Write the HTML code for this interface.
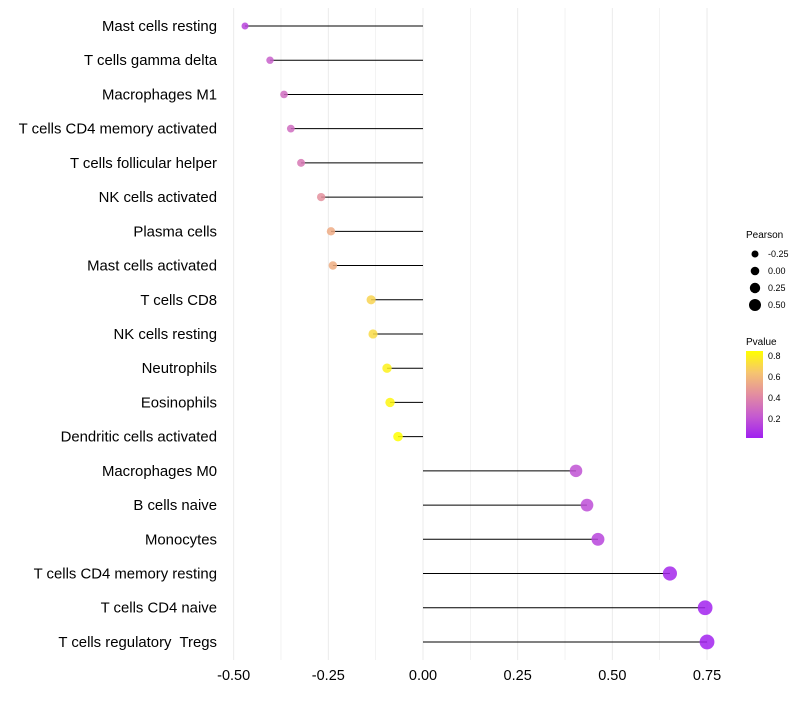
<!DOCTYPE html>
<html><head><meta charset="utf-8"><style>
body{margin:0;background:#fff;font-family:"Liberation Sans",sans-serif}
text{white-space:pre}
</style></head><body>
<svg id="chart" width="800" height="700" xmlns="http://www.w3.org/2000/svg">
<defs><linearGradient id="pg" x1="0" y1="1" x2="0" y2="0">
<stop offset="0" stop-color="#a020f0"/><stop offset="0.25" stop-color="#c55ad0"/><stop offset="0.5" stop-color="#e38da0"/><stop offset="0.75" stop-color="#f6c470"/><stop offset="1" stop-color="#ffff00"/></linearGradient></defs>
<g id="grid"></g><g id="marks"></g><g id="labels"></g>
<g font-size="9" fill="#000">
<text x="746" y="238" font-size="10">Pearson</text>
<circle cx="755" cy="254" r="3.5"/><text x="768" y="257">-0.25</text>
<circle cx="755" cy="271" r="4.3"/><text x="768" y="274">0.00</text>
<circle cx="755" cy="288" r="5.2"/><text x="768" y="291">0.25</text>
<circle cx="755" cy="305" r="6"/><text x="768" y="308">0.50</text>
</g>
<g font-size="9" fill="#000">
<text x="746" y="345" font-size="10">Pvalue</text>
<rect x="746" y="351" width="17" height="87" fill="url(#pg)"/>
<text x="768" y="359">0.8</text><text x="768" y="380">0.6</text><text x="768" y="401">0.4</text><text x="768" y="422">0.2</text>
</g>
</svg>
<script>
const categories=["Mast cells resting","T cells gamma delta","Macrophages M1","T cells CD4 memory activated","T cells follicular helper","NK cells activated","Plasma cells","Mast cells activated","T cells CD8","NK cells resting","Neutrophils","Eosinophils","Dendritic cells activated","Macrophages M0","B cells naive","Monocytes","T cells CD4 memory resting","T cells CD4 naive","T cells regulatory  Tregs"];
const pearson=[-0.47,-0.404,-0.367,-0.349,-0.322,-0.269,-0.243,-0.238,-0.137,-0.132,-0.095,-0.087,-0.066,0.404,0.433,0.462,0.652,0.745,0.75];
const pvalue=[0.15,0.25,0.3,0.3,0.35,0.45,0.55,0.56,0.7,0.72,0.8,0.82,0.85,0.2,0.18,0.15,0.05,0.03,0.03];
const xTicks=[-0.5,-0.25,0,0.25,0.5,0.75];
const xTickLabels=["-0.50","-0.25","0.00","0.25","0.50","0.75"];
const NS="http://www.w3.org/2000/svg";
const x=v=>423+v*378.7;
const y=i=>26+i*34.22;
const r=v=>5+3.2*v;
const stops=[[160,32,240],[197,90,208],[227,141,160],[246,196,112],[255,255,0]];
function col(p){let t=Math.max(0,Math.min(1,(p-0.02)/0.83))*4;let i=Math.min(3,Math.floor(t));let f=t-i;
const c=stops[i].map((a,k)=>Math.round(a+(stops[i+1][k]-a)*f));return `rgb(${c})`;}
function mk(tag,at,parent){const e=document.createElementNS(NS,tag);for(const k in at)e.setAttribute(k,at[k]);document.getElementById(parent).appendChild(e);return e;}
for(let v=-0.5;v<=0.76;v+=0.125){const g=mk("line",{x1:x(v),x2:x(v),y1:8,y2:660,stroke:"#ebebeb","stroke-width":Math.abs(v*8-Math.round(v*8))<1e-6&&Math.round(v*8)%2==0?1:0.6},"grid");

}
xTicks.forEach((t,i)=>{const e=mk("text",{x:x(t),y:680,"text-anchor":"middle","font-size":14.5,fill:"#000"},"labels");e.textContent=xTickLabels[i];

});
categories.forEach((c,i)=>{
const t=mk("text",{x:217,y:y(i)+5,"text-anchor":"end","font-size":14.9,fill:"#000"},"labels");t.textContent=c;


const s=mk("line",{x1:x(0),x2:x(pearson[i]),y1:y(i),y2:y(i),stroke:"#000","stroke-width":1},"marks");


const d=mk("circle",{cx:x(pearson[i]),cy:y(i),r:r(pearson[i]),fill:col(pvalue[i]),"fill-opacity":0.85},"marks");


});
</script>
</body></html>
